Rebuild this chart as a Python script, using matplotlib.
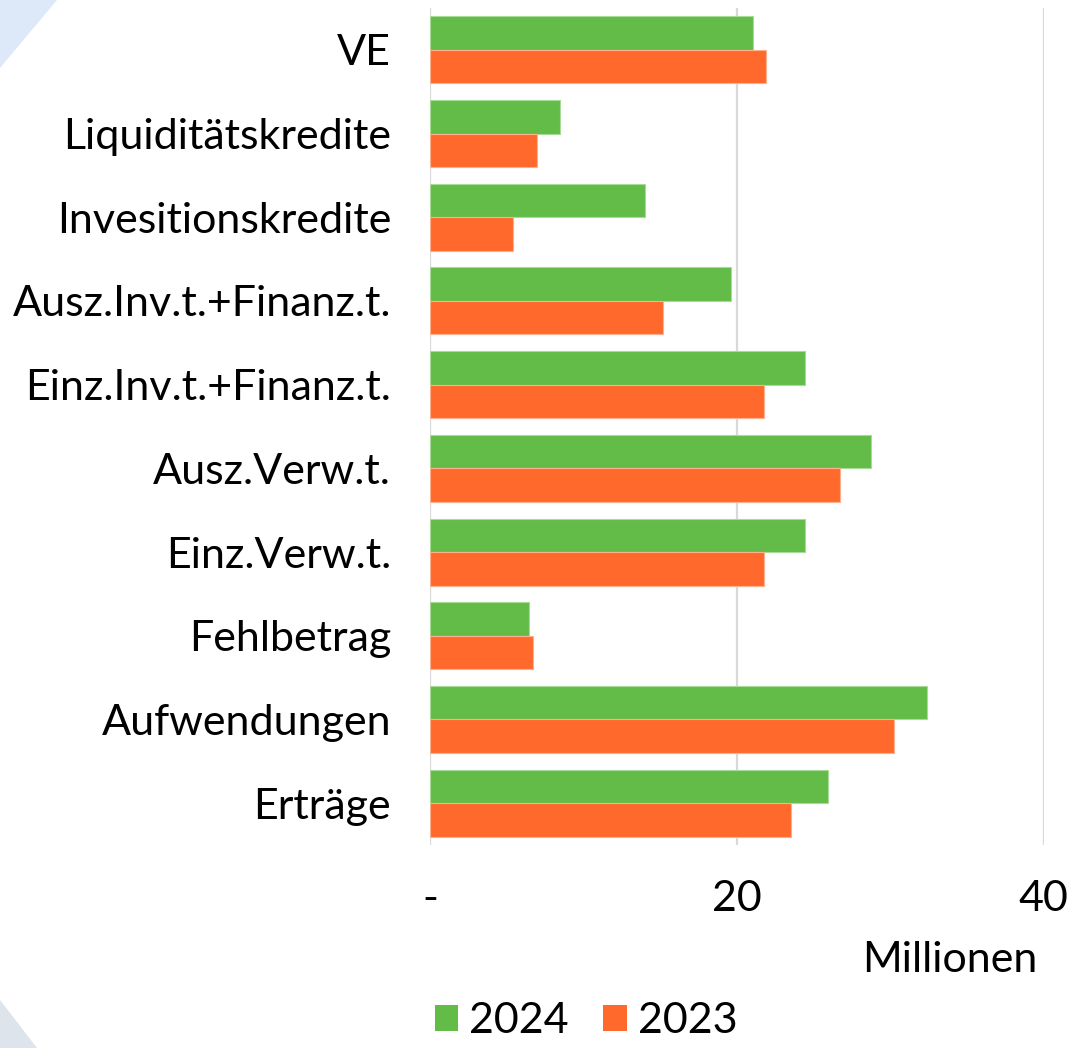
import matplotlib
matplotlib.use("Agg")
import matplotlib.pyplot as plt
from matplotlib.patches import Patch, Polygon
import numpy as np

categories = ["VE", "Liquiditätskredite", "Invesitionskredite", "Ausz.Inv.t.+Finanz.t.",
              "Einz.Inv.t.+Finanz.t.", "Ausz.Verw.t.", "Einz.Verw.t.", "Fehlbetrag",
              "Aufwendungen", "Erträge"]
values_2024 = [21.05, 8.5, 14.0, 19.6, 24.45, 28.75, 24.45, 6.45, 32.4, 25.95]
values_2023 = [21.9, 7.0, 5.4, 15.2, 21.8, 26.75, 21.75, 6.7, 30.25, 23.55]
series_labels = ["2024", "2023"]
x_ticks = [0, 20, 40]
x_tick_labels = ["-", "20", "40"]
unit_label = "Millionen"

GREEN = "#63BB48"
ORANGE = "#FF6A2C"

plt.rcParams["font.family"] = ["Lato", "DejaVu Sans"]

W, H = 1078, 1048
fig = plt.figure(figsize=(W / 100, H / 100), dpi=100)
fig.patch.set_facecolor("white")

# decorative corner shapes
fig.patches.append(Polygon([[0, 1], [57 / W, 1], [0, 1 - 68 / H]], closed=True,
                           transform=fig.transFigure, facecolor="#DDE9F8",
                           edgecolor="none", zorder=0))
fig.patches.append(Polygon([[0, 48 / H], [37 / W, 0], [0, 0]], closed=True,
                           transform=fig.transFigure, facecolor="#DDE4EC",
                           edgecolor="none", zorder=0))

left, right = 430 / W, 1043.5 / W
bottom, top = 1 - 845 / H, 1 - 8 / H
ax = fig.add_axes([left, bottom, right - left, top - bottom])
ax.set_facecolor("none")

n = len(categories)
centers = np.arange(n)[::-1]
bh = 0.4
ax.barh(centers + bh / 2, values_2024, height=bh, color=GREEN,
        edgecolor="#A8DB98", linewidth=0.8, label=series_labels[0], zorder=3)
ax.barh(centers - bh / 2, values_2023, height=bh, color=ORANGE,
        edgecolor="#FFB08F", linewidth=0.8, label=series_labels[1], zorder=3)

ax.set_xlim(0, 40)
ax.set_ylim(-0.5, n - 0.5)
ax.set_yticks(centers)
ax.set_yticklabels(categories)
ax.set_xticks(x_ticks)
ax.set_xticklabels(x_tick_labels)
FS = 31
ax.tick_params(axis="y", length=0, pad=28, labelsize=FS, labelcolor="black")
ax.tick_params(axis="x", length=0, pad=25, labelsize=FS, labelcolor="black")
for s in ax.spines.values():
    s.set_visible(False)
ax.grid(axis="x", color="#D9D9D9", linewidth=1.6, zorder=0)
ax.set_axisbelow(True)

fig.text(1037 / W, 1 - 972 / H, unit_label, ha="right", va="baseline",
         fontsize=FS, color="black")

handles = [Patch(facecolor=GREEN, edgecolor="none"), Patch(facecolor=ORANGE, edgecolor="none")]
fig.legend(handles, series_labels, loc="center", bbox_to_anchor=(586 / W, 1 - 1021 / H),
           ncol=2, frameon=False, fontsize=FS, handlelength=0.55, handleheight=0.55,
           handletextpad=0.25, columnspacing=0.8, borderpad=0)

fig.savefig("out.png", dpi=100, facecolor="white")
